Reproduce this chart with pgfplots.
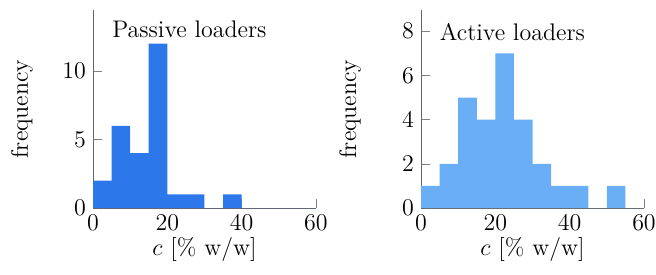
\documentclass[border=0pt]{standalone}
\usepackage{pgfplots}
\pgfplotsset{compat=1.18}
\definecolor{pblue}{RGB}{44,120,234}
\definecolor{ablue}{RGB}{106,174,245}
\pgfplotsset{
  myhist/.style={
    scale only axis, width=111.5pt, height=99pt,
    axis x line=bottom, axis y line=left,
    axis line style={-, black!60},
    tick style={black!50},
    tick align=inside,
    xmin=0, xmax=60, ymin=0,
    xtick={0,20,40,60},
    tick label style={font=\large},
    label style={font=\large},
    xlabel={$c$ [\% w/w]},
    ylabel={frequency},
    ylabel style={at={(axis description cs:0,0.5)}, yshift=35.5pt, anchor=center},
    xlabel style={at={(axis description cs:0.5,0)}, yshift=-20.5pt, anchor=center},
    clip=false,
  }
}
\begin{document}
\begin{tikzpicture}
\begin{axis}[myhist, ymax=14.45, ytick={0,5,10}]
\addplot[ybar interval, fill=pblue, draw=none] coordinates {
(0,2) (5,6) (10,4) (15,12) (20,1) (25,1) (30,0) (35,1) (40,0) (45,0) (50,0) (55,0) (60,0)};
\node[anchor=base west, inner sep=0pt, font=\large] at (rel axis cs:0.085,0.862) {Passive loaders};
\end{axis}
\begin{axis}[myhist, at={(164pt,0)}, ymax=8.96, ytick={0,2,4,6,8}]
\addplot[ybar interval, fill=ablue, draw=none] coordinates {
(0,1) (5,2) (10,5) (15,4) (20,7) (25,4) (30,2) (35,1) (40,1) (45,0) (50,1) (55,0) (60,0)};
\node[anchor=base west, inner sep=0pt, font=\large] at (rel axis cs:0.083,0.848) {Active loaders};
\end{axis}
\pgfresetboundingbox
\path (-46.5pt,-33pt) rectangle (281.5pt,104pt);
\end{tikzpicture}
\end{document}
